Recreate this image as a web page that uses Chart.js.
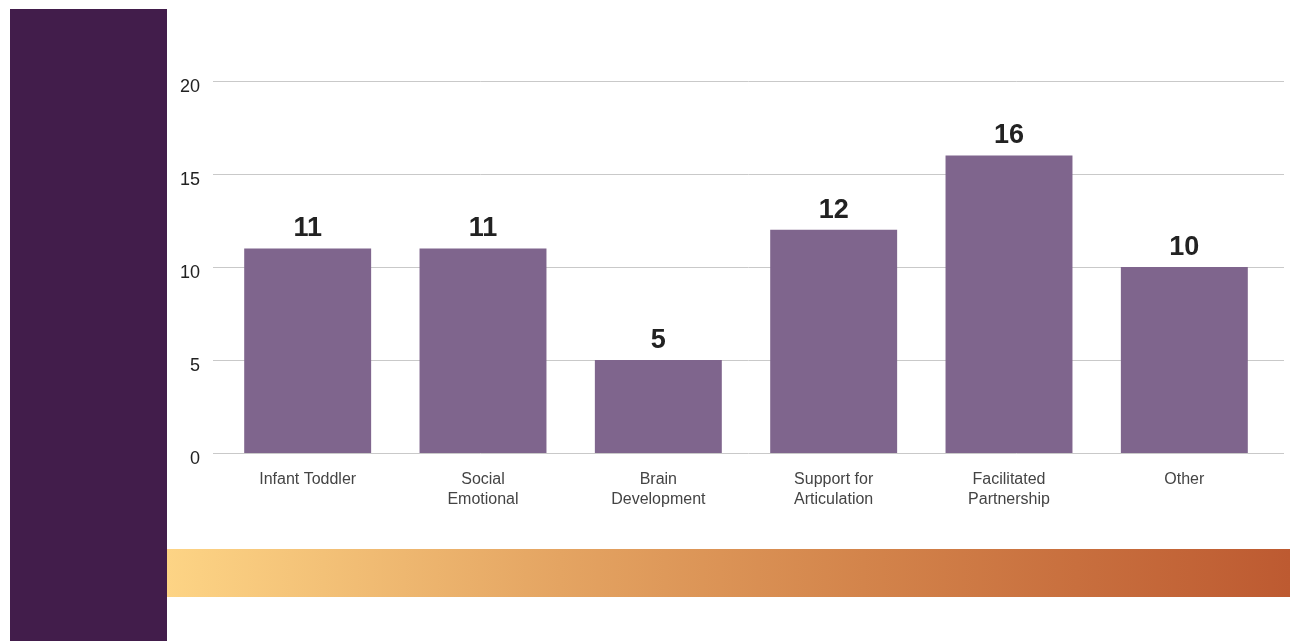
<!DOCTYPE html>
<html>
<head>
<meta charset="utf-8">
<script src="https://cdn.jsdelivr.net/npm/chart.js@4/dist/chart.umd.min.js"></script>
<style>
  html, body { margin: 0; padding: 0; background: #fff; }
  #wrap { position: relative; width: 1290px; height: 641px; overflow: hidden; }
  #side { position: absolute; left: 10px; top: 9px; width: 157px; height: 632px; background: #421d4b; }
  #band { position: absolute; left: 167px; top: 549px; width: 1123px; height: 48px;
          background: linear-gradient(to right, #fdd485, #e4a462 35%, #d3844b 62%, #bd5a31); }
  #chart { position: absolute; left: 0; top: 0; }
</style>
</head>
<body>
<div id="wrap">
  <div id="side"></div>
  <div id="band"></div>
  <canvas id="chart" width="1290" height="641"></canvas>
</div>
<script>
const categories = [['Infant Toddler'], ['Social', 'Emotional'], ['Brain', 'Development'], ['Support for', 'Articulation'], ['Facilitated', 'Partnership'], ['Other']];
const counts = [11, 11, 5, 12, 16, 10];
const yTicks = [0, 5, 10, 15, 20];

// grid lines run a bit wider than the category band
const gridLines = {
  id: 'gridLines',
  beforeDatasetsDraw(chart) {
    const y = chart.scales.y;
    const ctx = chart.ctx;
    ctx.save();
    ctx.strokeStyle = '#c9c9c9';
    ctx.lineWidth = 1;
    yTicks.forEach(v => {
      const py = Math.round(y.getPixelForValue(v)) + 0.5;
      ctx.beginPath();
      ctx.moveTo(213, py);
      ctx.lineTo(1284, py);
      ctx.stroke();
    });
    ctx.restore();
  }
};

// numbers above bars
const barValues = {
  id: 'barValues',
  afterDatasetsDraw(chart) {
    const ctx = chart.ctx;
    const meta = chart.getDatasetMeta(0);
    ctx.save();
    ctx.fillStyle = '#222';
    ctx.font = 'bold 27px "Liberation Sans", Arial, sans-serif';
    ctx.textAlign = 'center';
    ctx.textBaseline = 'bottom';
    meta.data.forEach((bar, i) => {
      ctx.fillText(String(counts[i]), bar.x, bar.y - 6);
    });
    ctx.restore();
  }
};

new Chart(document.getElementById('chart'), {
  type: 'bar',
  data: {
    labels: categories,
    datasets: [{
      data: counts,
      backgroundColor: '#7f658d',
      barPercentage: 0.724,
      categoryPercentage: 1.0
    }]
  },
  options: {
    responsive: false,
    animation: false,
    layout: { padding: { left: 180, right: 18, top: 81, bottom: 128 } },
    plugins: { legend: { display: false }, tooltip: { enabled: false } },
    scales: {
      x: {
        grid: { display: false, drawTicks: false },
        border: { display: false },
        ticks: {
          color: '#444',
          font: { family: '"Liberation Sans", Arial, sans-serif', size: 16, lineHeight: 1.25 },
          padding: 17,
          maxRotation: 0,
          autoSkip: false
        },
        afterFit(scale) { scale.height = 60; }
      },
      y: {
        min: 0,
        max: 20,
        grid: { display: false, drawTicks: false },
        border: { display: false },
        ticks: {
          stepSize: 5,
          color: '#222',
          font: { family: '"Liberation Sans", Arial, sans-serif', size: 18 },
          padding: 20,
          labelOffset: 6
        },
        afterFit(scale) { scale.width = 40; }
      }
    }
  },
  plugins: [gridLines, barValues]
});
</script>
</body>
</html>
